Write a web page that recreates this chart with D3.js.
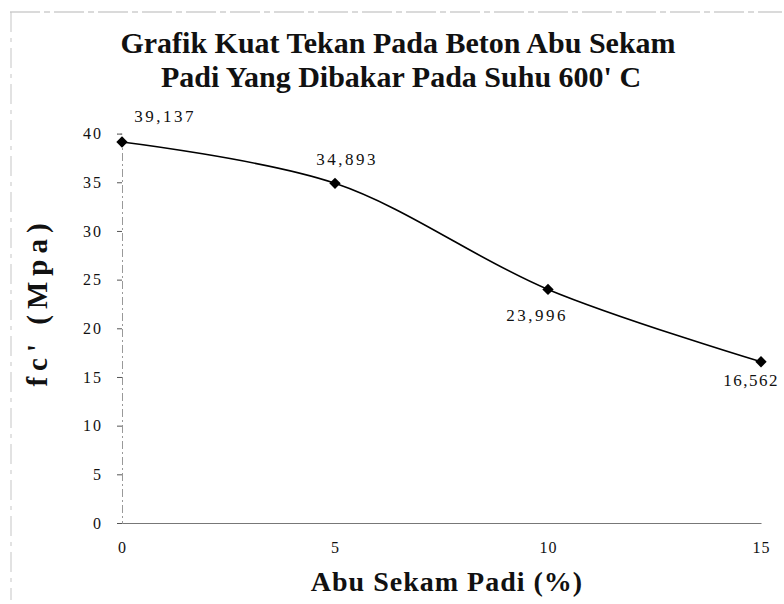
<!DOCTYPE html>
<html>
<head>
<meta charset="utf-8">
<script src="https://cdn.jsdelivr.net/npm/d3@7"></script>
<style>
  html, body { margin: 0; padding: 0; background: #fff; }
  svg { display: block; }
  text { font-family: "Liberation Serif", "Times New Roman", "DejaVu Serif", serif; fill: #111; }
</style>
</head>
<body>
<svg id="chart" width="784" height="604"></svg>
<script>
// ---- data ----
const titleLines = ["Grafik Kuat Tekan Pada Beton Abu Sekam", "Padi Yang Dibakar Pada Suhu 600' C"];
const xLabel = "Abu Sekam Padi (%)";
const yLabel = "fc' (Mpa)";
const abuSekam = [0, 5, 10, 15];
const kuatTekan = [39.137, 34.893, 23.996, 16.562];
const valueLabels = ["39,137", "34,893", "23,996", "16,562"];
const xTicks = [0, 5, 10, 15];
const yTicks = [0, 5, 10, 15, 20, 25, 30, 35, 40];

// ---- layout ----
const svg = d3.select("#chart");
const x = d3.scaleLinear().domain([0, 15]).range([122, 761]);
const y = d3.scaleLinear().domain([0, 40]).range([523, 133.6]);

// faint scanned frame (top and left edges)
svg.append("line").attr("x1", 10).attr("x2", 782).attr("y1", 12).attr("y2", 12)
  .attr("stroke", "#b5b5b5").attr("stroke-width", 1).attr("stroke-dasharray", "30,4,6,4");
svg.append("line").attr("x1", 11).attr("x2", 11).attr("y1", 12).attr("y2", 600)
  .attr("stroke", "#c5c5c5").attr("stroke-width", 1).attr("stroke-dasharray", "20,6,4,6");

// title
svg.append("text").attr("x", 398).attr("y", 53).attr("text-anchor", "middle")
  .style("font-size", "30px").style("font-weight", "bold").text(titleLines[0]);
svg.append("text").attr("x", 401).attr("y", 87).attr("text-anchor", "middle")
  .style("font-size", "30px").style("font-weight", "bold").text(titleLines[1]);

// y axis
const yAxis = d3.axisLeft(y).tickValues(yTicks).tickSize(5).tickPadding(14).tickFormat(d3.format("d"));
const gy = svg.append("g").attr("transform", `translate(${x(0)},0)`).call(yAxis);
gy.select(".domain").attr("stroke", "#999").attr("stroke-dasharray", "8,3,2,3");
gy.selectAll(".tick line").attr("stroke", "#555");
gy.selectAll(".tick text").style("font-size", "16px").style("letter-spacing", "2px")
  .attr("fill", "#111");

// x axis
const xAxis = d3.axisBottom(x).tickValues(xTicks).tickSize(0).tickPadding(19).tickFormat(d3.format("d"));
const gx = svg.append("g").attr("transform", `translate(0,${y(0)})`).call(xAxis);
gx.select(".domain").attr("stroke", "#777").attr("stroke-width", 1.2);
gx.selectAll(".tick text").style("font-size", "16px").style("letter-spacing", "1px")
  .attr("fill", "#111");

// axis titles
svg.append("text").attr("x", 447).attr("y", 591).attr("text-anchor", "middle")
  .style("font-size", "28px").style("font-weight", "bold").style("letter-spacing", "1px").text(xLabel);
svg.append("text").attr("transform", "translate(47,302) rotate(-90)").attr("text-anchor", "middle")
  .style("font-size", "29px").style("font-weight", "bold").style("letter-spacing", "6px").text(yLabel);

// line
const pts = abuSekam.map((d, i) => ({ x: d, v: kuatTekan[i], label: valueLabels[i] }));
const line = d3.line().x(d => x(d.x)).y(d => y(d.v)).curve(d3.curveCatmullRom.alpha(0.5));
svg.append("path").datum(pts).attr("d", line).attr("fill", "none")
  .attr("stroke", "#000").attr("stroke-width", 1.6);

// markers
svg.selectAll(".mk").data(pts).enter().append("path").attr("class", "mk")
  .attr("d", d3.symbol().type(d3.symbolSquare).size(64))
  .attr("transform", d => `translate(${x(d.x)},${y(d.v)}) rotate(45)`)
  .attr("fill", "#000");

// value labels
const offsets = [[43, -20], [12, -18], [-11, 32], [-10, 24]];
svg.selectAll(".vl").data(pts).enter().append("text").attr("class", "vl")
  .attr("x", (d, i) => x(d.x) + offsets[i][0])
  .attr("y", (d, i) => y(d.v) + offsets[i][1])
  .attr("text-anchor", "middle")
  .style("font-size", "17px").style("letter-spacing", (d, i) => i === 3 ? "1.5px" : "2.5px")
  .text(d => d.label);
</script>
</body>
</html>
